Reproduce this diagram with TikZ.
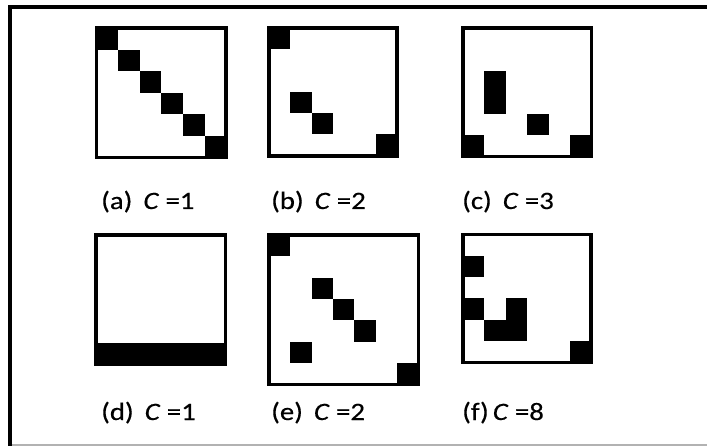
\documentclass[tikz,border=0pt]{standalone}
\usepackage{fontspec}
\setmainfont{Carlito}
\newfontfamily\labfont[FakeStretch=1.15,FakeBold=0.4]{Carlito}
\newcommand\mygrid[5]{%
  \foreach \c/\r in {#5} {\fill[cellfill] ({#1+\c*#3},{#2+\r*#3}) rectangle ++(#3,#3);}
  \draw[boxline] (#1,#2) rectangle ++({#4*#3},{#4*#3});}
\begin{document}
\begin{tikzpicture}[x=1pt,y=-1pt,
  cellfill/.style={fill=black},
  boxline/.style={draw=black,line width=3.5pt},
  lab/.style={inner sep=0pt,anchor=base west,font=\labfont\fontsize{25}{30}\selectfont},
  frameline/.style={draw=black,line width=3.5pt},
  bottomline/.style={draw=black!30,line width=1.5pt}]
\useasboundingbox (0,0) rectangle (707,446);
% frame
\draw[bottomline] (10,445.2) -- (707,445.2);
\draw[frameline] (10,446) -- (10,7) -- (707,7);
% panels
\mygrid{96.5}{28}{21.6}{6}{0/0,1/1,2/2,3/3,4/4,5/5}
\mygrid{269}{28}{21.3}{6}{0/0,1/3,2/4,5/5}
\mygrid{463}{28}{21.4}{6}{1/2,1/3,3/4,0/5,5/5}
\mygrid{96}{235}{21.6}{6}{0/5,1/5,2/5,3/5,4/5,5/5}
\mygrid{269}{235}{21.36}{7}{0/0,2/2,3/3,4/4,1/5,6/6}
\mygrid{463}{234.5}{21.33}{6}{0/1,0/3,2/3,1/4,2/4,5/5}
% labels
\node[lab] (la) at (101,209) {(a)\hspace{11pt}\textit{C} =1};
\node[lab] (lb) at (271,209) {(b)\hspace{11pt}\textit{C} =2};
\node[lab] (lc) at (462,209) {(c)\hspace{11pt}\textit{C} =3};
\node[lab] (ld) at (101,420) {(d)\hspace{11pt}\textit{C} =1};
\node[lab] (le) at (271,420) {(e)\hspace{11pt}\textit{C} =2};
\node[lab] (lf) at (462,420) {(f)\hspace{4pt}\textit{C} =8};
\end{tikzpicture}
\end{document}
